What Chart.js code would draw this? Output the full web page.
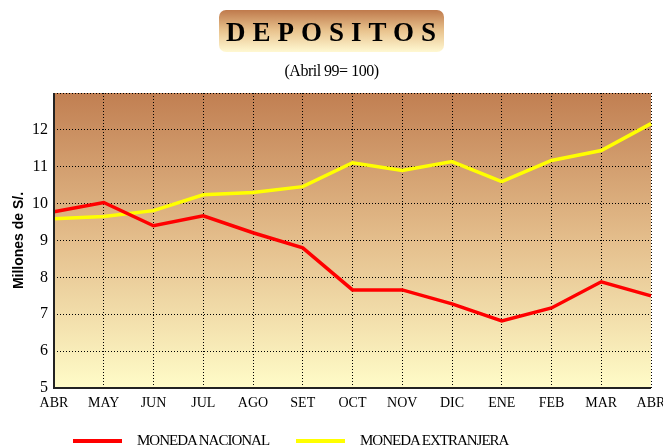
<!DOCTYPE html>
<html>
<head>
<meta charset="utf-8">
<script src="https://cdn.jsdelivr.net/npm/chart.js@4"></script>
<style>
  html, body { margin: 0; padding: 0; background: #fff; overflow: hidden; }
  #wrap { position: relative; width: 663px; height: 447px; }
  #chart { position: absolute; left: 0; top: 0; }
  .titulo {
    position: absolute; left: 219px; top: 10px; width: 225px; height: 42px;
    border-radius: 7px;
    background: linear-gradient(to bottom, #bf7a4c, #e9c48f 50%, #fff8d2);
    font: bold 27px "Liberation Serif", serif; letter-spacing: 7px;
    text-align: center; line-height: 44px; color: #000; text-indent: 6px;
  }
  .sub {
    position: absolute; left: 0; width: 663px; top: 62px; text-align: center;
    font: 16px "Liberation Serif", serif; letter-spacing: -0.5px;
  }
  .leyenda {
    position: absolute; top: 432px; font: 15px "Liberation Serif", serif; letter-spacing: -1px;
  }
  .leyenda span { position: absolute; top: 0; white-space: nowrap; }
  .linea { position: absolute; height: 4px; width: 49px; top: 7px; }
</style>
</head>
<body>
<div id="wrap">
  <canvas id="chart" width="663" height="447"></canvas>
  <div class="titulo">DEPOSITOS</div>
  <div class="sub">(Abril 99= 100)</div>
  <div class="leyenda" style="left:0">
    <div class="linea" style="left:73px; background:#ff0000"></div>
    <span style="left:137px">MONEDA NACIONAL</span>
    <div class="linea" style="left:296px; background:#ffff00"></div>
    <span style="left:360px">MONEDA EXTRANJERA</span>
  </div>
</div>
<script>
// Depósitos, índice abril 99 = 100
const meses = ['ABR', 'MAY', 'JUN', 'JUL', 'AGO', 'SET', 'OCT', 'NOV', 'DIC', 'ENE', 'FEB', 'MAR', 'ABR'];
const monedaNacional   = [9.78, 10.03, 9.40, 9.67, 9.21, 8.80, 7.66, 7.66, 7.28, 6.82, 7.17, 7.88, 7.50];
const monedaExtranjera = [9.59, 9.65, 9.81, 10.24, 10.30, 10.46, 11.11, 10.90, 11.14, 10.60, 11.17, 11.44, 12.17];
const yMin = 5, yMax = 13;

const fondo = {
  id: 'fondo',
  beforeDraw(chart) {
    const { ctx, chartArea: a } = chart;
    const g = ctx.createLinearGradient(0, a.top, 0, a.bottom);
    g.addColorStop(0, '#c17f52');
    g.addColorStop(0.5, '#e4be8c');
    g.addColorStop(1, '#fffcc8');
    ctx.save();
    ctx.fillStyle = g;
    ctx.fillRect(a.left, a.top, a.right - a.left, a.bottom - a.top);
    ctx.restore();
  }
};

// ejes sólidos a la izquierda y abajo, cuadrícula punteada
const ejes = {
  id: 'ejes',
  afterDatasetsDraw(chart) {
    const { ctx, chartArea: a } = chart;
    ctx.save();
    ctx.strokeStyle = '#222';
    ctx.lineWidth = 2;
    ctx.beginPath();
    ctx.moveTo(a.left, a.top);
    ctx.lineTo(a.left, a.bottom);
    ctx.lineTo(a.right, a.bottom);
    ctx.stroke();
    ctx.restore();
  }
};

const grid = { color: '#000', lineWidth: 1, drawTicks: false };
const borde = { display: false, dash: [1, 2] };

new Chart(document.getElementById('chart'), {
  type: 'line',
  data: {
    labels: meses,
    datasets: [
      { label: 'MONEDA NACIONAL', data: monedaNacional, borderColor: '#ff0000', borderWidth: 3.5, pointRadius: 0, tension: 0 },
      { label: 'MONEDA EXTRANJERA', data: monedaExtranjera, borderColor: '#ffff00', borderWidth: 3.5, pointRadius: 0, tension: 0 },
    ],
  },
  options: {
    responsive: false,
    animation: false,
    layout: { padding: { top: 93, right: 12, left: 11, bottom: 0 } },
    plugins: { legend: { display: false }, tooltip: { enabled: false } },
    scales: {
      x: {
        offset: false,
        grid: grid,
        border: borde,
        ticks: { color: '#000', padding: 7, maxRotation: 0, autoSkip: false, font: { family: 'Liberation Serif', size: 14 } },
        afterFit: (s) => { s.paddingLeft = 0; s.paddingRight = 0; s.height = 59; },
      },
      y: {
        min: yMin, max: yMax,
        grid: grid,
        border: borde,
        ticks: {
          stepSize: 1, color: '#000', padding: 6,
          font: { family: 'Liberation Serif', size: 16 },
          callback: (v) => v === yMax ? '' : v,
        },
        title: { display: true, text: 'Millones de S/.', color: '#000', padding: { top: 0, bottom: 0 }, font: { family: 'Liberation Sans', size: 14, weight: 'bold' } },
        afterFit: (s) => { s.width = 43; s.paddingTop = 0; s.paddingBottom = 0; },
      },
    },
  },
  plugins: [fondo, ejes],
});
</script>
</body>
</html>
